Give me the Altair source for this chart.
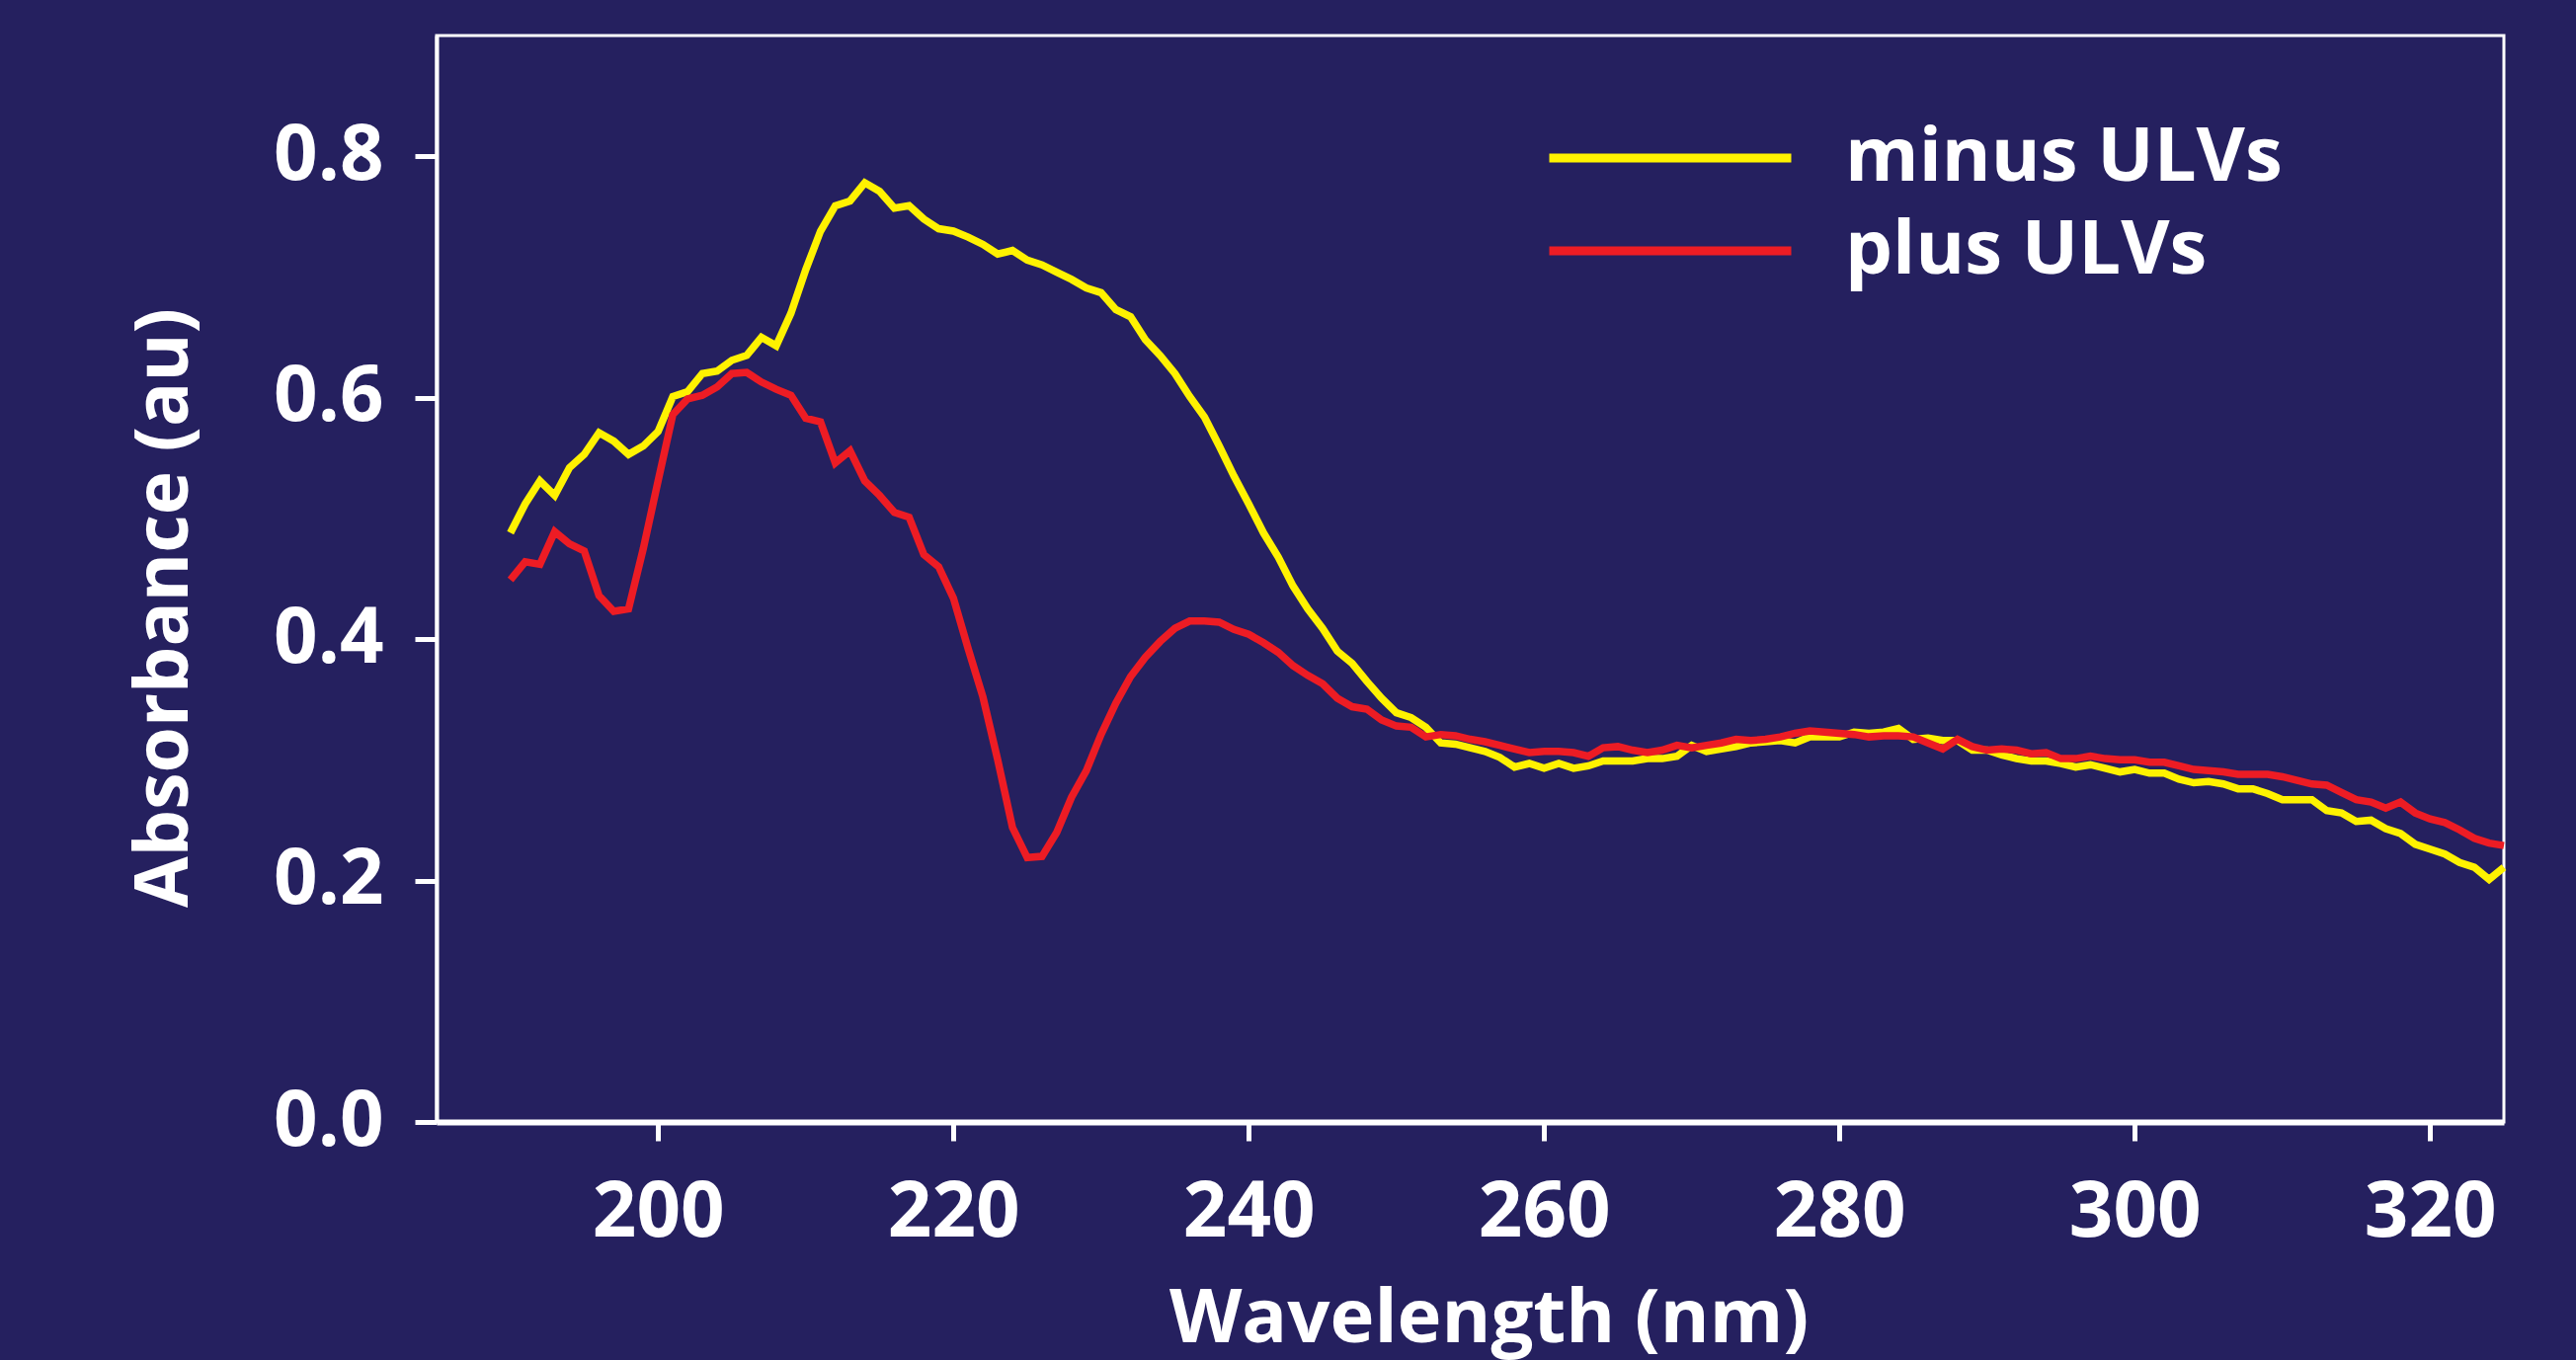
import altair as alt
import pandas as pd

wavelength = list(range(190, 326))

minus_ulvs = [
    0.488, 0.512, 0.531, 0.519, 0.542, 0.553, 0.571, 0.564, 0.553, 0.560,  # 190-199
    0.572, 0.601, 0.605, 0.620, 0.622, 0.631, 0.635, 0.650, 0.643, 0.670,  # 200-209
    0.706, 0.738, 0.759, 0.763, 0.778, 0.771, 0.757, 0.759, 0.748, 0.740,  # 210-219
    0.738, 0.733, 0.727, 0.719, 0.722, 0.714, 0.710, 0.704, 0.698, 0.691,  # 220-229
    0.687, 0.673, 0.667, 0.648, 0.635, 0.620, 0.601, 0.584, 0.560, 0.535,  # 230-239
    0.512, 0.488, 0.468, 0.444, 0.425, 0.409, 0.390, 0.380, 0.365, 0.351,  # 240-249
    0.339, 0.335, 0.327, 0.314, 0.313, 0.310, 0.307, 0.302, 0.294, 0.297,  # 250-259
    0.293, 0.297, 0.293, 0.295, 0.299, 0.299, 0.299, 0.301, 0.301, 0.303,  # 260-269
    0.312, 0.307, 0.309, 0.311, 0.314, 0.315, 0.316, 0.314, 0.319, 0.319,  # 270-279
    0.319, 0.323, 0.322, 0.323, 0.326, 0.317, 0.318, 0.316, 0.316, 0.308,  # 280-289
    0.308, 0.304, 0.301, 0.299, 0.299, 0.297, 0.294, 0.296, 0.293, 0.290,  # 290-299
    0.292, 0.289, 0.289, 0.284, 0.281, 0.282, 0.280, 0.276, 0.276, 0.272,  # 300-309
    0.267, 0.267, 0.267, 0.258, 0.256, 0.249, 0.250, 0.243, 0.239, 0.230,  # 310-319
    0.226, 0.222, 0.215, 0.211, 0.201, 0.211,                              # 320-325
]

plus_ulvs = [
    0.449, 0.464, 0.462, 0.489, 0.479, 0.473, 0.436, 0.423, 0.425, 0.475,  # 190-199
    0.531, 0.586, 0.599, 0.602, 0.609, 0.620, 0.621, 0.613, 0.607, 0.602,  # 200-209
    0.583, 0.580, 0.546, 0.556, 0.531, 0.519, 0.505, 0.501, 0.470, 0.460,  # 210-219
    0.434, 0.392, 0.352, 0.300, 0.244, 0.219, 0.220, 0.240, 0.269, 0.291,  # 220-229
    0.321, 0.347, 0.369, 0.385, 0.398, 0.409, 0.415, 0.415, 0.414, 0.408,  # 230-239
    0.404, 0.397, 0.389, 0.378, 0.370, 0.363, 0.351, 0.344, 0.342, 0.333,  # 240-249
    0.328, 0.327, 0.319, 0.321, 0.320, 0.317, 0.315, 0.312, 0.309, 0.306,  # 250-259
    0.307, 0.307, 0.306, 0.303, 0.310, 0.311, 0.308, 0.306, 0.308, 0.312,  # 260-269
    0.310, 0.312, 0.314, 0.317, 0.316, 0.317, 0.319, 0.322, 0.324, 0.323,  # 270-279
    0.322, 0.321, 0.319, 0.320, 0.320, 0.319, 0.314, 0.309, 0.317, 0.311,  # 280-289
    0.308, 0.309, 0.308, 0.305, 0.306, 0.301, 0.301, 0.303, 0.301, 0.300,  # 290-299
    0.300, 0.298, 0.298, 0.295, 0.292, 0.291, 0.290, 0.288, 0.288, 0.288,  # 300-309
    0.286, 0.283, 0.280, 0.279, 0.273, 0.267, 0.265, 0.260, 0.265, 0.256,  # 310-319
    0.251, 0.248, 0.242, 0.235, 0.231, 0.229,                              # 320-325
]

series_names = ["minus ULVs", "plus ULVs"]
series_colors = ["#FFF200", "#ED1C24"]
x_ticks = [200, 220, 240, 260, 280, 300, 320]
y_ticks = [0.0, 0.2, 0.4, 0.6, 0.8]

rows = []
for name, values in zip(series_names, [minus_ulvs, plus_ulvs]):
    for w, a in zip(wavelength, values):
        rows.append({"wavelength": w, "absorbance": a, "series": name})
df = pd.DataFrame(rows)

FONT = "Open Sans"
BG = "#25205F"

chart = (
    alt.Chart(df)
    .mark_line(strokeWidth=7.5)
    .encode(
        x=alt.X(
            "wavelength:Q",
            scale=alt.Scale(domain=[185, 325], nice=False, zero=False),
            axis=alt.Axis(
                values=x_ticks,
                format="d",
                title="Wavelength (nm)",
                titleX=1065,
                titleY=222,
                titleAlign="center",
                titleBaseline="alphabetic",
                titleFontSize=76,
                labelPadding=34,
                tickSize=19,
                tickWidth=5,
                domainWidth=6,
            ),
        ),
        y=alt.Y(
            "absorbance:Q",
            scale=alt.Scale(domain=[0, 0.9], nice=False),
            axis=alt.Axis(
                values=y_ticks,
                format=".1f",
                title="Absorbance (au)",
                titleX=-253,
                titleY=579,
                titleAngle=270,
                titleAlign="center",
                titleBaseline="alphabetic",
                titleFontSize=75,
                labelPadding=32,
                tickSize=22,
                tickWidth=5,
                domainWidth=4,
            ),
        ),
        color=alt.Color(
            "series:N",
            scale=alt.Scale(domain=series_names, range=series_colors),
            legend=alt.Legend(
                title=None,
                orient="none",
                legendX=1122,
                legendY=77,
                symbolType="stroke",
                symbolSize=60025,
                symbolStrokeWidth=9,
                labelFont=FONT,
                labelFontSize=76,
                labelFontWeight="bold",
                labelColor="white",
                labelOffset=50,
                labelLimit=0,
                clipHeight=94,
                rowPadding=0,
                padding=0,
                offset=0,
            ),
        ),
    )
    .properties(
        width=2093,
        height=1100,
        autosize=alt.AutoSizeParams(type="none"),
        padding={"left": 442, "top": 36, "right": 73, "bottom": 241},
        background=BG,
    )
    .configure_view(stroke="white", strokeWidth=3)
    .configure_axis(
        grid=False,
        domainColor="white",
        tickColor="white",
        labelColor="white",
        titleColor="white",
        labelFont=FONT,
        titleFont=FONT,
        labelFontSize=78,
        titleFontSize=78,
        labelFontWeight="bold",
        titleFontWeight="bold",
    )
)

chart.save("out.html", embed_options={"renderer": "svg", "actions": False})
